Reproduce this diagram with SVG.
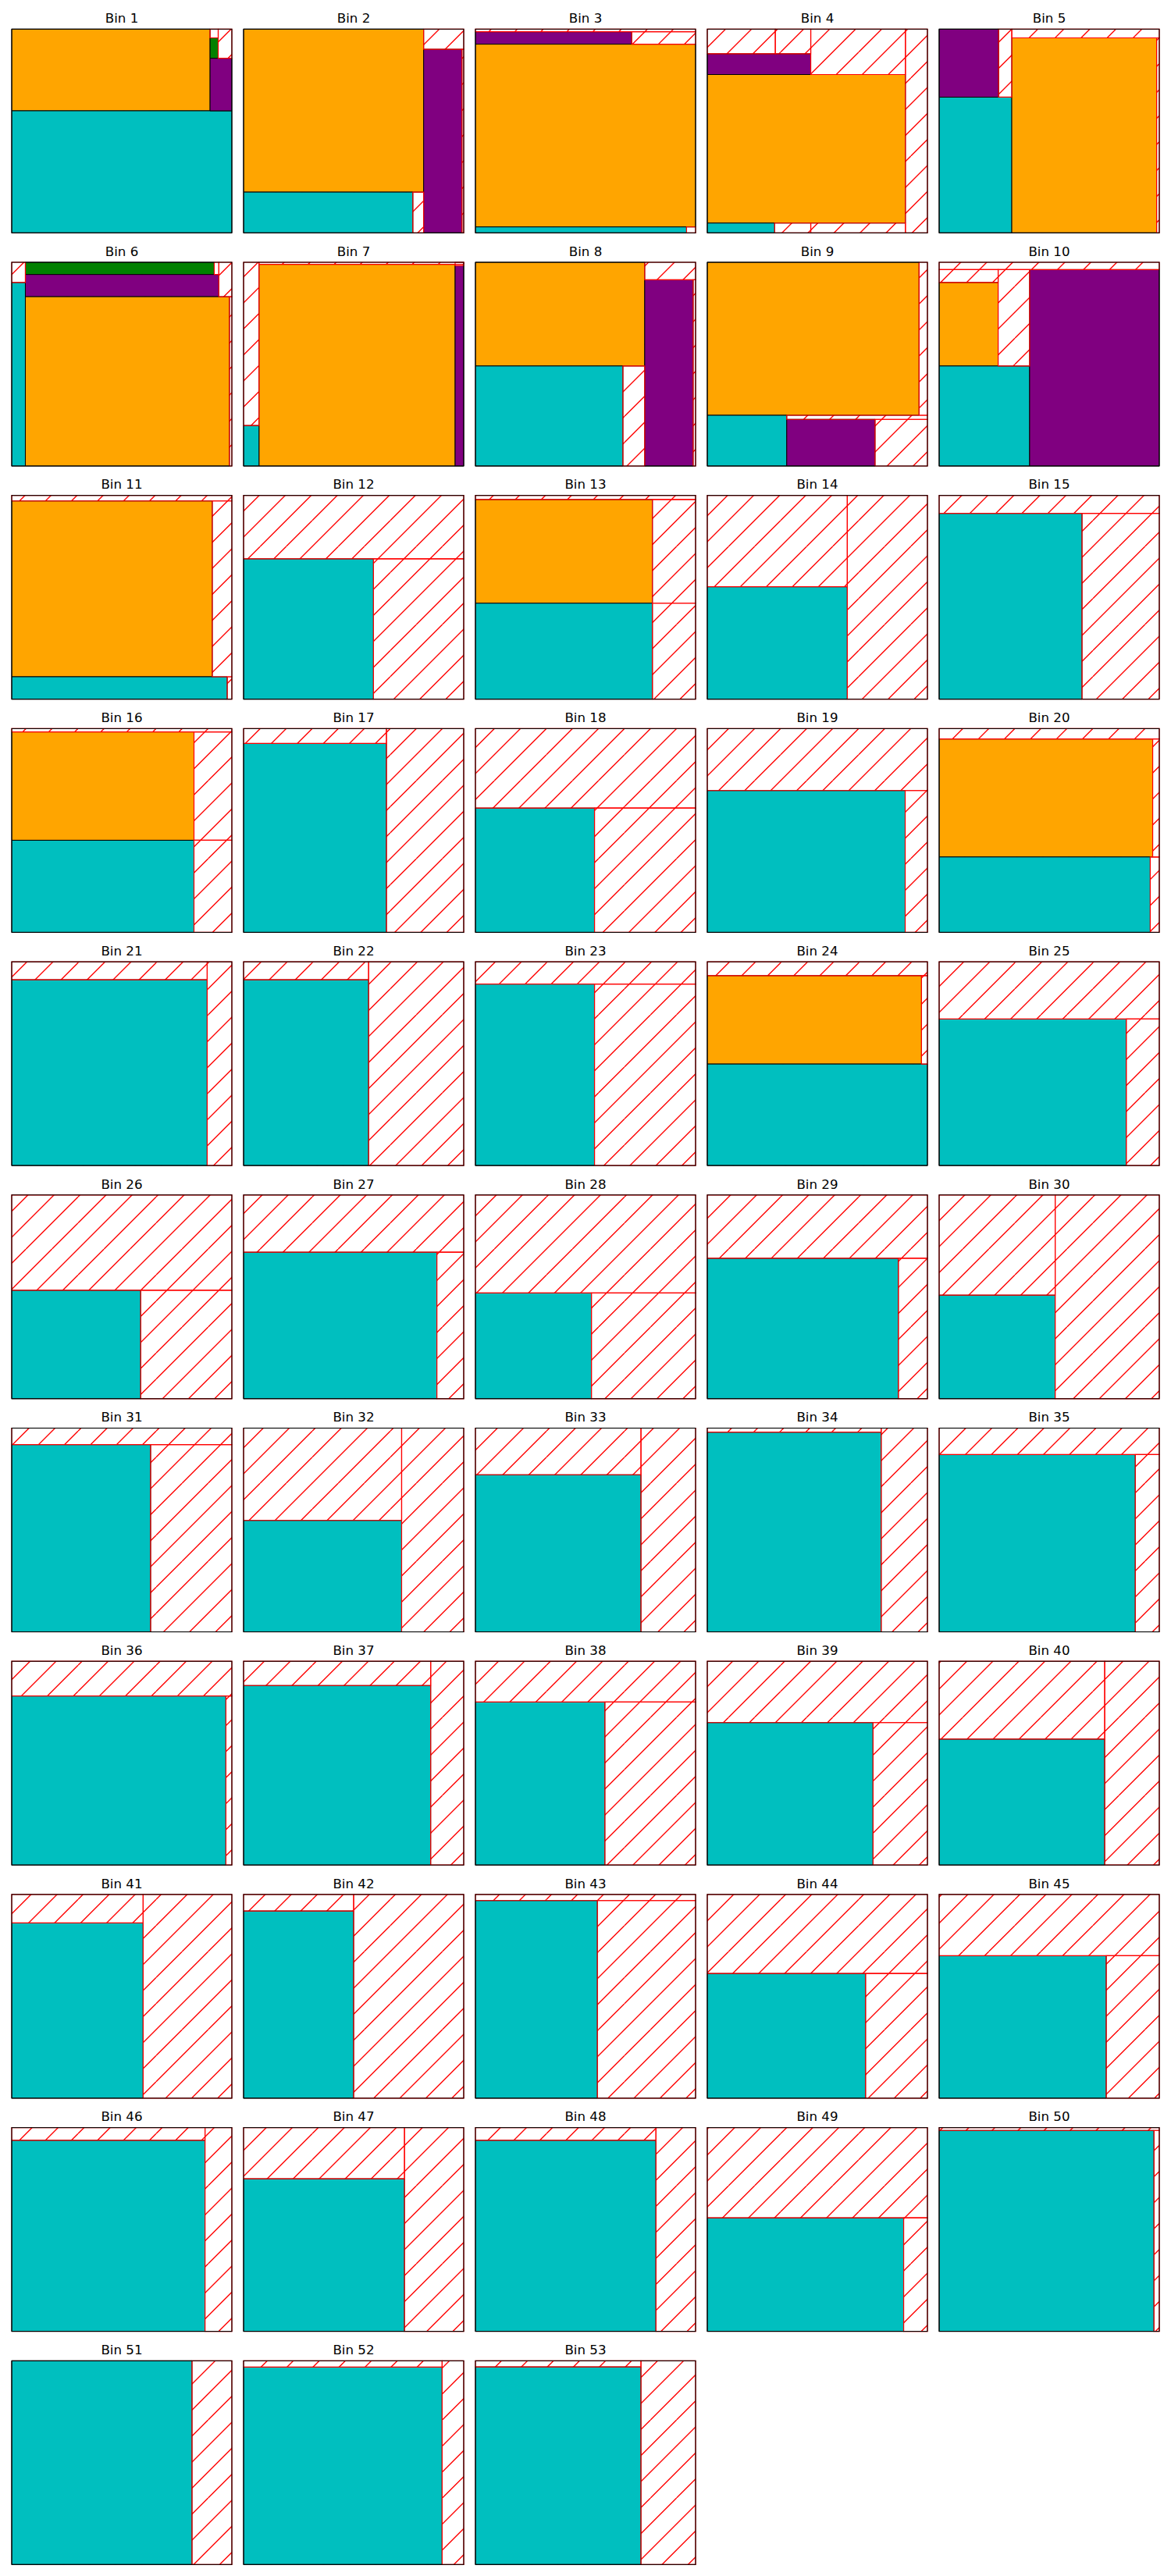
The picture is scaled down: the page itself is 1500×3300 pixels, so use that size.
<svg xmlns="http://www.w3.org/2000/svg" width="1500" height="3300" viewBox="0 0 1500 3300">
<defs>
<pattern id="hatch" patternUnits="userSpaceOnUse" width="100" height="100">
<rect width="100" height="100" fill="#fff"/>
<path d="M0,33.333 L33.333,0 M0,66.667 L66.667,0 M0,100 L100,0 M33.333,100 L100,33.333 M66.667,100 L100,66.667 M-5,5 L5,-5 M95,105 L105,95" stroke="#ff0000" stroke-width="1.39" fill="none"/>
</pattern>
<style>
.hb{fill:url(#hatch)}
.it{stroke:#000;stroke-width:1;vector-effect:non-scaling-stroke}
.c{fill:#00bfbf}.o{fill:#ffa500}.p{fill:#800080}.g{fill:#008000}
.f{fill:none;stroke:#ff0000;stroke-width:1.2;vector-effect:non-scaling-stroke}
.ax{fill:none;stroke:#000;stroke-width:1.1}
.t{font-family:"DejaVu Sans",sans-serif;font-size:16.67px;text-anchor:middle;fill:#000}
</style>
</defs>
<rect width="1500" height="3300" fill="#fff"/>

<g id="bin-1"><rect class="hb" x="15" y="37.3" width="282" height="261"/>
<g transform="translate(15,37.3) scale(0.282,0.261)">
<rect class="it o" x="0" y="0" width="901" height="401"/>
<rect class="it c" x="0" y="401" width="1000" height="599"/>
<rect class="it p" x="901" y="143" width="99" height="258"/>
<rect class="it g" x="901" y="43" width="37" height="100"/>
<rect class="f" x="901" y="0" width="37" height="43"/>
<rect class="f" x="938" y="0" width="62" height="143"/>
</g><rect class="ax" x="15" y="37.3" width="282" height="261"/><text class="t" x="156" y="29">Bin 1</text></g>

<g id="bin-2"><rect class="hb" x="312" y="37.3" width="282" height="261"/>
<g transform="translate(312,37.3) scale(0.282,0.261)">
<rect class="it o" x="0" y="0" width="818" height="800"/>
<rect class="it c" x="0" y="800" width="769" height="200"/>
<rect class="it p" x="818" y="99" width="174" height="901"/>
<rect class="f" x="818" y="0" width="182" height="99"/>
<rect class="f" x="769" y="800" width="49" height="200"/>
<rect class="f" x="992" y="99" width="8" height="901"/>
</g><rect class="ax" x="312" y="37.3" width="282" height="261"/><text class="t" x="453" y="29">Bin 2</text></g>

<g id="bin-3"><rect class="hb" x="609" y="37.3" width="282" height="261"/>
<g transform="translate(609,37.3) scale(0.282,0.261)">
<rect class="it p" x="0" y="13" width="710" height="61"/>
<rect class="it o" x="0" y="74" width="1000" height="897"/>
<rect class="it c" x="0" y="971" width="959" height="29"/>
<rect class="f" x="0" y="0" width="1000" height="13"/>
<rect class="f" x="710" y="13" width="290" height="61"/>
<rect class="f" x="959" y="971" width="41" height="29"/>
</g><rect class="ax" x="609" y="37.3" width="282" height="261"/><text class="t" x="750" y="29">Bin 3</text></g>

<g id="bin-4"><rect class="hb" x="906" y="37.3" width="282" height="261"/>
<g transform="translate(906,37.3) scale(0.282,0.261)">
<rect class="it p" x="0" y="121" width="470" height="102"/>
<rect class="it o" x="0" y="223" width="900" height="729"/>
<rect class="it c" x="0" y="952" width="306" height="48"/>
<rect class="f" x="0" y="0" width="309" height="121"/>
<rect class="f" x="309" y="0" width="161" height="121"/>
<rect class="f" x="470" y="0" width="430" height="223"/>
<rect class="f" x="900" y="0" width="100" height="1000"/>
<rect class="f" x="306" y="952" width="164" height="48"/>
<rect class="f" x="470" y="952" width="430" height="48"/>
</g><rect class="ax" x="906" y="37.3" width="282" height="261"/><text class="t" x="1047" y="29">Bin 4</text></g>

<g id="bin-5"><rect class="hb" x="1203" y="37.3" width="282" height="261"/>
<g transform="translate(1203,37.3) scale(0.282,0.261)">
<rect class="it p" x="0" y="0" width="270" height="334"/>
<rect class="it c" x="0" y="334" width="330" height="666"/>
<rect class="it o" x="330" y="43" width="658" height="957"/>
<rect class="f" x="270" y="0" width="60" height="334"/>
<rect class="f" x="330" y="0" width="670" height="43"/>
<rect class="f" x="988" y="43" width="12" height="957"/>
</g><rect class="ax" x="1203" y="37.3" width="282" height="261"/><text class="t" x="1344" y="29">Bin 5</text></g>

<g id="bin-6"><rect class="hb" x="15" y="336" width="282" height="261"/>
<g transform="translate(15,336) scale(0.282,0.261)">
<rect class="it c" x="0" y="99" width="62" height="901"/>
<rect class="it g" x="62" y="0" width="858" height="60"/>
<rect class="it p" x="62" y="60" width="879" height="109"/>
<rect class="it o" x="62" y="169" width="927" height="831"/>
<rect class="f" x="0" y="0" width="62" height="99"/>
<rect class="f" x="920" y="0" width="21" height="60"/>
<rect class="f" x="941" y="0" width="59" height="169"/>
<rect class="f" x="989" y="169" width="11" height="831"/>
</g><rect class="ax" x="15" y="336" width="282" height="261"/><text class="t" x="156" y="327.7">Bin 6</text></g>

<g id="bin-7"><rect class="hb" x="312" y="336" width="282" height="261"/>
<g transform="translate(312,336) scale(0.282,0.261)">
<rect class="it o" x="70" y="10" width="891" height="990"/>
<rect class="it p" x="961" y="17" width="39" height="983"/>
<rect class="it c" x="0" y="801" width="70" height="199"/>
<rect class="f" x="0" y="0" width="70" height="801"/>
<rect class="f" x="70" y="0" width="930" height="10"/>
<rect class="f" x="961" y="0" width="39" height="17"/>
</g><rect class="ax" x="312" y="336" width="282" height="261"/><text class="t" x="453" y="327.7">Bin 7</text></g>

<g id="bin-8"><rect class="hb" x="609" y="336" width="282" height="261"/>
<g transform="translate(609,336) scale(0.282,0.261)">
<rect class="it o" x="0" y="0" width="769" height="509"/>
<rect class="it p" x="769" y="86" width="220" height="914"/>
<rect class="it c" x="0" y="509" width="670" height="491"/>
<rect class="f" x="769" y="0" width="231" height="86"/>
<rect class="f" x="989" y="86" width="11" height="914"/>
<rect class="f" x="670" y="509" width="99" height="491"/>
</g><rect class="ax" x="609" y="336" width="282" height="261"/><text class="t" x="750" y="327.7">Bin 8</text></g>

<g id="bin-9"><rect class="hb" x="906" y="336" width="282" height="261"/>
<g transform="translate(906,336) scale(0.282,0.261)">
<rect class="it o" x="0" y="0" width="962" height="751"/>
<rect class="it c" x="0" y="751" width="361" height="249"/>
<rect class="it p" x="361" y="771" width="401" height="229"/>
<rect class="f" x="962" y="0" width="38" height="751"/>
<rect class="f" x="361" y="751" width="639" height="20"/>
<rect class="f" x="762" y="771" width="238" height="229"/>
</g><rect class="ax" x="906" y="336" width="282" height="261"/><text class="t" x="1047" y="327.7">Bin 9</text></g>

<g id="bin-10"><rect class="hb" x="1203" y="336" width="282" height="261"/>
<g transform="translate(1203,336) scale(0.282,0.261)">
<rect class="it o" x="0" y="99" width="268" height="410"/>
<rect class="it c" x="0" y="509" width="411" height="491"/>
<rect class="it p" x="411" y="36" width="589" height="964"/>
<rect class="f" x="0" y="0" width="1000" height="36"/>
<rect class="f" x="0" y="36" width="268" height="63"/>
<rect class="f" x="268" y="36" width="143" height="473"/>
</g><rect class="ax" x="1203" y="336" width="282" height="261"/><text class="t" x="1344" y="327.7">Bin 10</text></g>

<g id="bin-11"><rect class="hb" x="15" y="634.7" width="282" height="261"/>
<g transform="translate(15,634.7) scale(0.282,0.261)">
<rect class="it o" x="0" y="27" width="911" height="863"/>
<rect class="it c" x="0" y="890" width="979" height="110"/>
<rect class="f" x="0" y="0" width="1000" height="27"/>
<rect class="f" x="911" y="27" width="89" height="863"/>
<rect class="f" x="979" y="890" width="21" height="110"/>
</g><rect class="ax" x="15" y="634.7" width="282" height="261"/><text class="t" x="156" y="626.4">Bin 11</text></g>

<g id="bin-12"><rect class="hb" x="312" y="634.7" width="282" height="261"/>
<g transform="translate(312,634.7) scale(0.282,0.261)">
<rect class="it c" x="0" y="311" width="590" height="689"/>
<rect class="f" x="0" y="0" width="1000" height="311"/>
<rect class="f" x="590" y="311" width="410" height="689"/>
</g><rect class="ax" x="312" y="634.7" width="282" height="261"/><text class="t" x="453" y="626.4">Bin 12</text></g>

<g id="bin-13"><rect class="hb" x="609" y="634.7" width="282" height="261"/>
<g transform="translate(609,634.7) scale(0.282,0.261)">
<rect class="it o" x="0" y="20" width="804" height="509"/>
<rect class="it c" x="0" y="529" width="804" height="471"/>
<rect class="f" x="0" y="0" width="1000" height="20"/>
<rect class="f" x="804" y="20" width="196" height="509"/>
<rect class="f" x="804" y="529" width="196" height="471"/>
</g><rect class="ax" x="609" y="634.7" width="282" height="261"/><text class="t" x="750" y="626.4">Bin 13</text></g>

<g id="bin-14"><rect class="hb" x="906" y="634.7" width="282" height="261"/>
<g transform="translate(906,634.7) scale(0.282,0.261)">
<rect class="it c" x="0" y="448" width="636" height="552"/>
<rect class="f" x="0" y="0" width="636" height="448"/>
<rect class="f" x="636" y="0" width="364" height="1000"/>
</g><rect class="ax" x="906" y="634.7" width="282" height="261"/><text class="t" x="1047" y="626.4">Bin 14</text></g>

<g id="bin-15"><rect class="hb" x="1203" y="634.7" width="282" height="261"/>
<g transform="translate(1203,634.7) scale(0.282,0.261)">
<rect class="it c" x="0" y="88" width="649" height="912"/>
<rect class="f" x="0" y="0" width="1000" height="88"/>
<rect class="f" x="649" y="88" width="351" height="912"/>
</g><rect class="ax" x="1203" y="634.7" width="282" height="261"/><text class="t" x="1344" y="626.4">Bin 15</text></g>

<g id="bin-16"><rect class="hb" x="15" y="933.4" width="282" height="261"/>
<g transform="translate(15,933.4) scale(0.282,0.261)">
<rect class="it o" x="0" y="16" width="828" height="532"/>
<rect class="it c" x="0" y="548" width="828" height="452"/>
<rect class="f" x="0" y="0" width="1000" height="16"/>
<rect class="f" x="828" y="16" width="172" height="532"/>
<rect class="f" x="828" y="548" width="172" height="452"/>
</g><rect class="ax" x="15" y="933.4" width="282" height="261"/><text class="t" x="156" y="925.1">Bin 16</text></g>

<g id="bin-17"><rect class="hb" x="312" y="933.4" width="282" height="261"/>
<g transform="translate(312,933.4) scale(0.282,0.261)">
<rect class="it c" x="0" y="73" width="649" height="927"/>
<rect class="f" x="0" y="0" width="649" height="73"/>
<rect class="f" x="649" y="0" width="351" height="1000"/>
</g><rect class="ax" x="312" y="933.4" width="282" height="261"/><text class="t" x="453" y="925.1">Bin 17</text></g>

<g id="bin-18"><rect class="hb" x="609" y="933.4" width="282" height="261"/>
<g transform="translate(609,933.4) scale(0.282,0.261)">
<rect class="it c" x="0" y="390" width="541" height="610"/>
<rect class="f" x="0" y="0" width="1000" height="390"/>
<rect class="f" x="541" y="390" width="459" height="610"/>
</g><rect class="ax" x="609" y="933.4" width="282" height="261"/><text class="t" x="750" y="925.1">Bin 18</text></g>

<g id="bin-19"><rect class="hb" x="906" y="933.4" width="282" height="261"/>
<g transform="translate(906,933.4) scale(0.282,0.261)">
<rect class="it c" x="0" y="304" width="899" height="696"/>
<rect class="f" x="0" y="0" width="1000" height="304"/>
<rect class="f" x="899" y="304" width="101" height="696"/>
</g><rect class="ax" x="906" y="933.4" width="282" height="261"/><text class="t" x="1047" y="925.1">Bin 19</text></g>

<g id="bin-20"><rect class="hb" x="1203" y="933.4" width="282" height="261"/>
<g transform="translate(1203,933.4) scale(0.282,0.261)">
<rect class="it o" x="0" y="51" width="970" height="579"/>
<rect class="it c" x="0" y="630" width="959" height="370"/>
<rect class="f" x="0" y="0" width="1000" height="51"/>
<rect class="f" x="970" y="51" width="30" height="579"/>
<rect class="f" x="959" y="630" width="41" height="370"/>
</g><rect class="ax" x="1203" y="933.4" width="282" height="261"/><text class="t" x="1344" y="925.1">Bin 20</text></g>

<g id="bin-21"><rect class="hb" x="15" y="1232.1" width="282" height="261"/>
<g transform="translate(15,1232.1) scale(0.282,0.261)">
<rect class="it c" x="0" y="88" width="888" height="912"/>
<rect class="f" x="0" y="0" width="888" height="88"/>
<rect class="f" x="888" y="0" width="112" height="1000"/>
</g><rect class="ax" x="15" y="1232.1" width="282" height="261"/><text class="t" x="156" y="1223.8">Bin 21</text></g>

<g id="bin-22"><rect class="hb" x="312" y="1232.1" width="282" height="261"/>
<g transform="translate(312,1232.1) scale(0.282,0.261)">
<rect class="it c" x="0" y="88" width="568" height="912"/>
<rect class="f" x="0" y="0" width="568" height="88"/>
<rect class="f" x="568" y="0" width="432" height="1000"/>
</g><rect class="ax" x="312" y="1232.1" width="282" height="261"/><text class="t" x="453" y="1223.8">Bin 22</text></g>

<g id="bin-23"><rect class="hb" x="609" y="1232.1" width="282" height="261"/>
<g transform="translate(609,1232.1) scale(0.282,0.261)">
<rect class="it c" x="0" y="109" width="541" height="891"/>
<rect class="f" x="0" y="0" width="1000" height="109"/>
<rect class="f" x="541" y="109" width="459" height="891"/>
</g><rect class="ax" x="609" y="1232.1" width="282" height="261"/><text class="t" x="750" y="1223.8">Bin 23</text></g>

<g id="bin-24"><rect class="hb" x="906" y="1232.1" width="282" height="261"/>
<g transform="translate(906,1232.1) scale(0.282,0.261)">
<rect class="it o" x="0" y="68" width="973" height="434"/>
<rect class="it c" x="0" y="502" width="1000" height="498"/>
<rect class="f" x="0" y="0" width="1000" height="68"/>
<rect class="f" x="973" y="68" width="27" height="434"/>
</g><rect class="ax" x="906" y="1232.1" width="282" height="261"/><text class="t" x="1047" y="1223.8">Bin 24</text></g>

<g id="bin-25"><rect class="hb" x="1203" y="1232.1" width="282" height="261"/>
<g transform="translate(1203,1232.1) scale(0.282,0.261)">
<rect class="it c" x="0" y="281" width="850" height="719"/>
<rect class="f" x="0" y="0" width="1000" height="281"/>
<rect class="f" x="850" y="281" width="150" height="719"/>
</g><rect class="ax" x="1203" y="1232.1" width="282" height="261"/><text class="t" x="1344" y="1223.8">Bin 25</text></g>

<g id="bin-26"><rect class="hb" x="15" y="1530.8" width="282" height="261"/>
<g transform="translate(15,1530.8) scale(0.282,0.261)">
<rect class="it c" x="0" y="468" width="586" height="532"/>
<rect class="f" x="0" y="0" width="1000" height="468"/>
<rect class="f" x="586" y="468" width="414" height="532"/>
</g><rect class="ax" x="15" y="1530.8" width="282" height="261"/><text class="t" x="156" y="1522.5">Bin 26</text></g>

<g id="bin-27"><rect class="hb" x="312" y="1530.8" width="282" height="261"/>
<g transform="translate(312,1530.8) scale(0.282,0.261)">
<rect class="it c" x="0" y="281" width="878" height="719"/>
<rect class="f" x="0" y="0" width="1000" height="281"/>
<rect class="f" x="878" y="281" width="122" height="719"/>
</g><rect class="ax" x="312" y="1530.8" width="282" height="261"/><text class="t" x="453" y="1522.5">Bin 27</text></g>

<g id="bin-28"><rect class="hb" x="609" y="1530.8" width="282" height="261"/>
<g transform="translate(609,1530.8) scale(0.282,0.261)">
<rect class="it c" x="0" y="481" width="527" height="519"/>
<rect class="f" x="0" y="0" width="1000" height="481"/>
<rect class="f" x="527" y="481" width="473" height="519"/>
</g><rect class="ax" x="609" y="1530.8" width="282" height="261"/><text class="t" x="750" y="1522.5">Bin 28</text></g>

<g id="bin-29"><rect class="hb" x="906" y="1530.8" width="282" height="261"/>
<g transform="translate(906,1530.8) scale(0.282,0.261)">
<rect class="it c" x="0" y="311" width="868" height="689"/>
<rect class="f" x="0" y="0" width="1000" height="311"/>
<rect class="f" x="868" y="311" width="132" height="689"/>
</g><rect class="ax" x="906" y="1530.8" width="282" height="261"/><text class="t" x="1047" y="1522.5">Bin 29</text></g>

<g id="bin-30"><rect class="hb" x="1203" y="1530.8" width="282" height="261"/>
<g transform="translate(1203,1530.8) scale(0.282,0.261)">
<rect class="it c" x="0" y="492" width="527" height="508"/>
<rect class="f" x="0" y="0" width="527" height="492"/>
<rect class="f" x="527" y="0" width="473" height="1000"/>
</g><rect class="ax" x="1203" y="1530.8" width="282" height="261"/><text class="t" x="1344" y="1522.5">Bin 30</text></g>

<g id="bin-31"><rect class="hb" x="15" y="1829.5" width="282" height="261"/>
<g transform="translate(15,1829.5) scale(0.282,0.261)">
<rect class="it c" x="0" y="81" width="631" height="919"/>
<rect class="f" x="0" y="0" width="1000" height="81"/>
<rect class="f" x="631" y="81" width="369" height="919"/>
</g><rect class="ax" x="15" y="1829.5" width="282" height="261"/><text class="t" x="156" y="1821.2">Bin 31</text></g>

<g id="bin-32"><rect class="hb" x="312" y="1829.5" width="282" height="261"/>
<g transform="translate(312,1829.5) scale(0.282,0.261)">
<rect class="it c" x="0" y="453" width="718" height="547"/>
<rect class="f" x="0" y="0" width="718" height="453"/>
<rect class="f" x="718" y="0" width="282" height="1000"/>
</g><rect class="ax" x="312" y="1829.5" width="282" height="261"/><text class="t" x="453" y="1821.2">Bin 32</text></g>

<g id="bin-33"><rect class="hb" x="609" y="1829.5" width="282" height="261"/>
<g transform="translate(609,1829.5) scale(0.282,0.261)">
<rect class="it c" x="0" y="229" width="752" height="771"/>
<rect class="f" x="0" y="0" width="752" height="229"/>
<rect class="f" x="752" y="0" width="248" height="1000"/>
</g><rect class="ax" x="609" y="1829.5" width="282" height="261"/><text class="t" x="750" y="1821.2">Bin 33</text></g>

<g id="bin-34"><rect class="hb" x="906" y="1829.5" width="282" height="261"/>
<g transform="translate(906,1829.5) scale(0.282,0.261)">
<rect class="it c" x="0" y="20" width="790" height="980"/>
<rect class="f" x="0" y="0" width="790" height="20"/>
<rect class="f" x="790" y="0" width="210" height="1000"/>
</g><rect class="ax" x="906" y="1829.5" width="282" height="261"/><text class="t" x="1047" y="1821.2">Bin 34</text></g>

<g id="bin-35"><rect class="hb" x="1203" y="1829.5" width="282" height="261"/>
<g transform="translate(1203,1829.5) scale(0.282,0.261)">
<rect class="it c" x="0" y="130" width="891" height="870"/>
<rect class="f" x="0" y="0" width="1000" height="130"/>
<rect class="f" x="891" y="130" width="109" height="870"/>
</g><rect class="ax" x="1203" y="1829.5" width="282" height="261"/><text class="t" x="1344" y="1821.2">Bin 35</text></g>

<g id="bin-36"><rect class="hb" x="15" y="2128.2" width="282" height="261"/>
<g transform="translate(15,2128.2) scale(0.282,0.261)">
<rect class="it c" x="0" y="170" width="973" height="830"/>
<rect class="f" x="0" y="0" width="1000" height="170"/>
<rect class="f" x="973" y="170" width="27" height="830"/>
</g><rect class="ax" x="15" y="2128.2" width="282" height="261"/><text class="t" x="156" y="2119.9">Bin 36</text></g>

<g id="bin-37"><rect class="hb" x="312" y="2128.2" width="282" height="261"/>
<g transform="translate(312,2128.2) scale(0.282,0.261)">
<rect class="it c" x="0" y="119" width="850" height="881"/>
<rect class="f" x="0" y="0" width="850" height="119"/>
<rect class="f" x="850" y="0" width="150" height="1000"/>
</g><rect class="ax" x="312" y="2128.2" width="282" height="261"/><text class="t" x="453" y="2119.9">Bin 37</text></g>

<g id="bin-38"><rect class="hb" x="609" y="2128.2" width="282" height="261"/>
<g transform="translate(609,2128.2) scale(0.282,0.261)">
<rect class="it c" x="0" y="200" width="588" height="800"/>
<rect class="f" x="0" y="0" width="1000" height="200"/>
<rect class="f" x="588" y="200" width="412" height="800"/>
</g><rect class="ax" x="609" y="2128.2" width="282" height="261"/><text class="t" x="750" y="2119.9">Bin 38</text></g>

<g id="bin-39"><rect class="hb" x="906" y="2128.2" width="282" height="261"/>
<g transform="translate(906,2128.2) scale(0.282,0.261)">
<rect class="it c" x="0" y="301" width="753" height="699"/>
<rect class="f" x="0" y="0" width="1000" height="301"/>
<rect class="f" x="753" y="301" width="247" height="699"/>
</g><rect class="ax" x="906" y="2128.2" width="282" height="261"/><text class="t" x="1047" y="2119.9">Bin 39</text></g>

<g id="bin-40"><rect class="hb" x="1203" y="2128.2" width="282" height="261"/>
<g transform="translate(1203,2128.2) scale(0.282,0.261)">
<rect class="it c" x="0" y="382" width="752" height="618"/>
<rect class="f" x="0" y="0" width="752" height="382"/>
<rect class="f" x="752" y="0" width="248" height="1000"/>
</g><rect class="ax" x="1203" y="2128.2" width="282" height="261"/><text class="t" x="1344" y="2119.9">Bin 40</text></g>

<g id="bin-41"><rect class="hb" x="15" y="2426.9" width="282" height="261"/>
<g transform="translate(15,2426.9) scale(0.282,0.261)">
<rect class="it c" x="0" y="140" width="597" height="860"/>
<rect class="f" x="0" y="0" width="597" height="140"/>
<rect class="f" x="597" y="0" width="403" height="1000"/>
</g><rect class="ax" x="15" y="2426.9" width="282" height="261"/><text class="t" x="156" y="2418.6">Bin 41</text></g>

<g id="bin-42"><rect class="hb" x="312" y="2426.9" width="282" height="261"/>
<g transform="translate(312,2426.9) scale(0.282,0.261)">
<rect class="it c" x="0" y="81" width="500" height="919"/>
<rect class="f" x="0" y="0" width="500" height="81"/>
<rect class="f" x="500" y="0" width="500" height="1000"/>
</g><rect class="ax" x="312" y="2426.9" width="282" height="261"/><text class="t" x="453" y="2418.6">Bin 42</text></g>

<g id="bin-43"><rect class="hb" x="609" y="2426.9" width="282" height="261"/>
<g transform="translate(609,2426.9) scale(0.282,0.261)">
<rect class="it c" x="0" y="30" width="554" height="970"/>
<rect class="f" x="0" y="0" width="1000" height="30"/>
<rect class="f" x="554" y="30" width="446" height="970"/>
</g><rect class="ax" x="609" y="2426.9" width="282" height="261"/><text class="t" x="750" y="2418.6">Bin 43</text></g>

<g id="bin-44"><rect class="hb" x="906" y="2426.9" width="282" height="261"/>
<g transform="translate(906,2426.9) scale(0.282,0.261)">
<rect class="it c" x="0" y="388" width="719" height="612"/>
<rect class="f" x="0" y="0" width="1000" height="388"/>
<rect class="f" x="719" y="388" width="281" height="612"/>
</g><rect class="ax" x="906" y="2426.9" width="282" height="261"/><text class="t" x="1047" y="2418.6">Bin 44</text></g>

<g id="bin-45"><rect class="hb" x="1203" y="2426.9" width="282" height="261"/>
<g transform="translate(1203,2426.9) scale(0.282,0.261)">
<rect class="it c" x="0" y="301" width="759" height="699"/>
<rect class="f" x="0" y="0" width="1000" height="301"/>
<rect class="f" x="759" y="301" width="241" height="699"/>
</g><rect class="ax" x="1203" y="2426.9" width="282" height="261"/><text class="t" x="1344" y="2418.6">Bin 45</text></g>

<g id="bin-46"><rect class="hb" x="15" y="2725.6" width="282" height="261"/>
<g transform="translate(15,2725.6) scale(0.282,0.261)">
<rect class="it c" x="0" y="62" width="878" height="938"/>
<rect class="f" x="0" y="0" width="878" height="62"/>
<rect class="f" x="878" y="0" width="122" height="1000"/>
</g><rect class="ax" x="15" y="2725.6" width="282" height="261"/><text class="t" x="156" y="2717.3">Bin 46</text></g>

<g id="bin-47"><rect class="hb" x="312" y="2725.6" width="282" height="261"/>
<g transform="translate(312,2725.6) scale(0.282,0.261)">
<rect class="it c" x="0" y="251" width="731" height="749"/>
<rect class="f" x="0" y="0" width="731" height="251"/>
<rect class="f" x="731" y="0" width="269" height="1000"/>
</g><rect class="ax" x="312" y="2725.6" width="282" height="261"/><text class="t" x="453" y="2717.3">Bin 47</text></g>

<g id="bin-48"><rect class="hb" x="609" y="2725.6" width="282" height="261"/>
<g transform="translate(609,2725.6) scale(0.282,0.261)">
<rect class="it c" x="0" y="62" width="820" height="938"/>
<rect class="f" x="0" y="0" width="820" height="62"/>
<rect class="f" x="820" y="0" width="180" height="1000"/>
</g><rect class="ax" x="609" y="2725.6" width="282" height="261"/><text class="t" x="750" y="2717.3">Bin 48</text></g>

<g id="bin-49"><rect class="hb" x="906" y="2725.6" width="282" height="261"/>
<g transform="translate(906,2725.6) scale(0.282,0.261)">
<rect class="it c" x="0" y="443" width="892" height="557"/>
<rect class="f" x="0" y="0" width="1000" height="443"/>
<rect class="f" x="892" y="443" width="108" height="557"/>
</g><rect class="ax" x="906" y="2725.6" width="282" height="261"/><text class="t" x="1047" y="2717.3">Bin 49</text></g>

<g id="bin-50"><rect class="hb" x="1203" y="2725.6" width="282" height="261"/>
<g transform="translate(1203,2725.6) scale(0.282,0.261)">
<rect class="it c" x="0" y="14" width="976" height="986"/>
<rect class="f" x="0" y="0" width="1000" height="14"/>
<rect class="f" x="976" y="14" width="24" height="986"/>
</g><rect class="ax" x="1203" y="2725.6" width="282" height="261"/><text class="t" x="1344" y="2717.3">Bin 50</text></g>

<g id="bin-51"><rect class="hb" x="15" y="3024.3" width="282" height="261"/>
<g transform="translate(15,3024.3) scale(0.282,0.261)">
<rect class="it c" x="0" y="0" width="819" height="1000"/>
<rect class="f" x="819" y="0" width="181" height="1000"/>
</g><rect class="ax" x="15" y="3024.3" width="282" height="261"/><text class="t" x="156" y="3016">Bin 51</text></g>

<g id="bin-52"><rect class="hb" x="312" y="3024.3" width="282" height="261"/>
<g transform="translate(312,3024.3) scale(0.282,0.261)">
<rect class="it c" x="0" y="31" width="902" height="969"/>
<rect class="f" x="0" y="0" width="902" height="31"/>
<rect class="f" x="902" y="0" width="98" height="1000"/>
</g><rect class="ax" x="312" y="3024.3" width="282" height="261"/><text class="t" x="453" y="3016">Bin 52</text></g>

<g id="bin-53"><rect class="hb" x="609" y="3024.3" width="282" height="261"/>
<g transform="translate(609,3024.3) scale(0.282,0.261)">
<rect class="it c" x="0" y="30" width="752" height="970"/>
<rect class="f" x="0" y="0" width="752" height="30"/>
<rect class="f" x="752" y="0" width="248" height="1000"/>
</g><rect class="ax" x="609" y="3024.3" width="282" height="261"/><text class="t" x="750" y="3016">Bin 53</text></g>
</svg>
